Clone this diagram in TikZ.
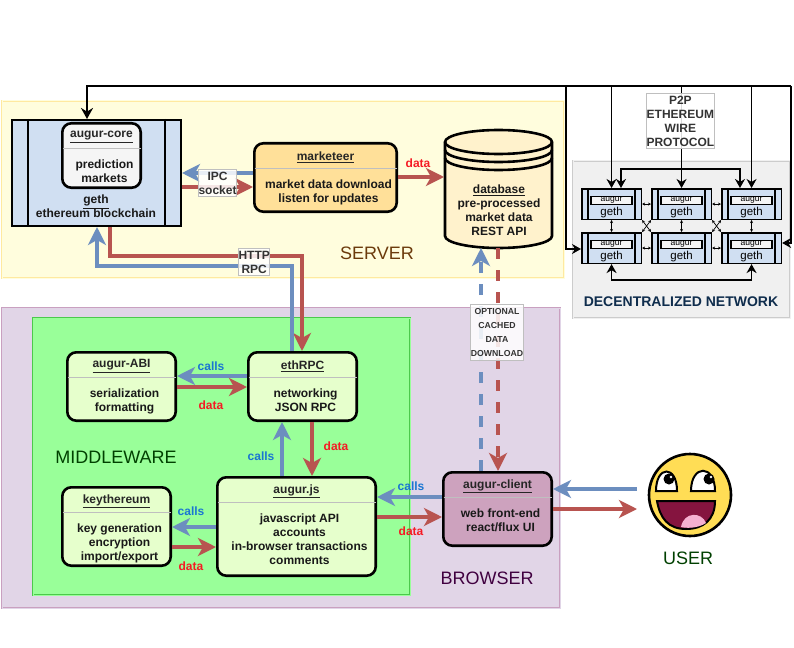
\documentclass[tikz,border=0pt]{standalone}
\usepackage{fontspec}
\setmainfont{Liberation Sans}
\usetikzlibrary{arrows.meta}
\definecolor{callblue}{HTML}{6C8EBF}
\definecolor{datared}{HTML}{B85450}
\definecolor{callstext}{HTML}{1A76D2}
\definecolor{datatext}{HTML}{F51A24}
\definecolor{gethfill}{HTML}{D0DFF2}
\definecolor{serverfill}{HTML}{FFFDDD}
\definecolor{serverline}{HTML}{FFE9A0}
\definecolor{browserfill}{HTML}{E1D5E7}
\definecolor{browserline}{HTML}{C9A0C0}
\definecolor{middlefill}{HTML}{99FF99}
\definecolor{middleline}{HTML}{4CC94C}
\definecolor{cardgreen}{HTML}{E6FFCC}
\definecolor{clientfill}{HTML}{CDA2BE}
\definecolor{marketfill}{HTML}{FFE099}
\definecolor{dbfill}{HTML}{FFF2CC}
\definecolor{faceyellow}{HTML}{FFDD55}
\definecolor{facemouth}{HTML}{85143F}
\definecolor{facetongue}{HTML}{F5B0D0}
\definecolor{servertext}{HTML}{6B3A0B}
\definecolor{nettext}{HTML}{0F2D4D}
\tikzset{
  region/.style 2 args={draw=#1,fill=#2,double=#2,double distance=1pt,line width=.8pt},
  card/.style={draw=black,line width=2.6pt,rounded corners=9pt,anchor=north west,inner sep=0pt},
  head/.style={font=\fontsize{12}{14}\selectfont\bfseries,inner sep=0pt,text=black!85},
  body/.style={font=\fontsize{12}{14}\selectfont\bfseries,inner sep=0pt,align=center,anchor=north,text=black!90},
  divider/.style={draw=black!25,line width=1.3pt},
  calls/.style={draw=callblue,line width=3.6pt,-{Stealth[length=18pt,width=18pt,inset=5pt]}},
  data/.style={draw=datared,line width=3.6pt,-{Stealth[length=18pt,width=18pt,inset=5pt]}},
  tag/.style={draw=black!25,line width=1pt,fill=white,fill opacity=.85,text opacity=1,inner sep=0pt,
    align=center,font=\fontsize{12}{14}\selectfont\bfseries,text=black!80,anchor=north west},
  callstag/.style={font=\fontsize{12}{14}\selectfont\bfseries,text=callstext,inner sep=0pt},
  datatag/.style={font=\fontsize{12}{14}\selectfont\bfseries,text=datatext,inner sep=0pt},
  zone/.style={font=\fontsize{18}{18}\selectfont,inner sep=0pt},
  wire/.style={draw=black,line width=1.8pt,-{Stealth[length=9pt,width=10pt]}},
  wires/.style={draw=black,line width=1.8pt,{Stealth[length=9pt,width=10pt]}-{Stealth[length=9pt,width=10pt]}},
  link/.style={draw=black,line width=.7pt,{Stealth[length=3pt,width=3pt]}-{Stealth[length=3pt,width=3pt]}},
}
\begin{document}
\begin{tikzpicture}[x=1pt,y=-1pt]
  \useasboundingbox (0,0) rectangle (794,647);
  \def\card#1#2(#3,#4)#5#6#7#8{
    \node[card,fill=#2,minimum width=#5-2.6,minimum height=#6-2.6] (#1) at (#3,#4) {};
    \node[head] (#1-head) at ([yshift=-15]#1.north) {\underline{#7}};
    \draw[divider] ([xshift=1.5,yshift=-26.5]#1.north west) -- ([xshift=-1.5,yshift=-26.5]#1.north east);
    \node[body] (#1-body) at ([xshift=3,yshift=-38]#1.north) {#8};
  }
  % regions
  \draw[region={serverline}{serverfill}] (2,101) rectangle (564,278);
  \draw[region={browserline}{browserfill}] (2,308) rectangle (560,608);
  \draw[region={black!20}{black!6}] (573,161) rectangle (790,318);
  \draw[region={middleline}{middlefill}] (33,318) rectangle (410,595);
  \node[zone,text=servertext] (server) at (377,253) {SERVER};
  \node[zone,text=green!25!black] (middleware) at (116,457) {MIDDLEWARE};
  \node[zone,text=violet!50!black] (browser) at (487,578) {BROWSER};
  \node[zone,text=green!25!black] (user) at (688,558) {USER};
  \node[font=\fontsize{14}{14}\selectfont\bfseries,text=nettext,inner sep=0pt] (network) at (681,302) {DECENTRALIZED NETWORK};

  % server
  \node[card,rounded corners=0pt,line width=2pt,fill=gethfill,minimum width=169,minimum height=106] (geth) at (11,119) {};
  \draw[line width=2pt] ([xshift=17]geth.north west) -- ([xshift=17]geth.south west);
  \draw[line width=2pt] ([xshift=-17]geth.north east) -- ([xshift=-17]geth.south east);
  \card{core}{black!4}(61,122){81}{67}{augur-core}{prediction\\markets}
  \node[body] (geth-body) at (96,195) {\underline{geth}\\ethereum blockchain};
  \card{marketeer}{marketfill}(253,142){145}{71}{marketeer}{market data download\\listen for updates}

  % database, three discs on a drum
  \draw[line width=2.6pt,fill=dbfill] (445,142) -- (445,236) arc[start angle=180,end angle=360,x radius=53.5pt,y radius=12pt]
    -- (552,142) arc[start angle=0,end angle=180,x radius=53.5pt,y radius=12pt] -- cycle;
  \draw[line width=2.6pt] (445,142) arc[start angle=180,end angle=360,x radius=53.5pt,y radius=12pt];
  \draw[line width=2.6pt] (445,150) arc[start angle=180,end angle=360,x radius=53.5pt,y radius=12pt];
  \draw[line width=2.6pt] (445,158) arc[start angle=180,end angle=360,x radius=53.5pt,y radius=12pt];
  \node[minimum width=109,minimum height=118,inner sep=0pt,outer sep=0pt] (database) at (498.5,189) {};
  \node[body] (database-body) at (499,185) {\underline{database}\\pre-processed\\market data\\REST API};

  % middleware and browser
  \card{ethrpc}{cardgreen}(247,351){111}{71}{ethRPC}{networking\\JSON RPC}
  \card{abi}{cardgreen}(66,351){111}{71}{augur-ABI}{serialization\\formatting}
  \card{keythereum}{cardgreen}(61,486){111}{81}{keythereum}{key generation\\encryption\\import/export}
  \card{augurjs}{cardgreen}(216,476){161}{101}{augur.js}{javascript API\\accounts\\in-browser transactions\\comments}
  \card{client}{clientfill}(442,471){111}{76}{augur-client}{web front-end\\react/flux UI}

  % user face
  \coordinate (face) at (690,495);
  \fill[faceyellow,draw=black,line width=2.6pt] (face) circle (41);
  \draw[fill=facemouth,line width=2pt] (657,501) -- (715,501) .. controls (715,520) and (703,529) .. (686,529) .. controls (668,529) and (660,518) .. (657,501) -- cycle;
  \fill[facetongue] (681,527) .. controls (684,511) and (702,512) .. (706,523) .. controls (700,527) and (690,529) .. (681,527) -- cycle;
  \draw[fill=white,line width=2pt] (656,491) .. controls (656,465) and (677,465) .. (677,491) -- cycle;
  \draw[fill=white,line width=2pt] (691,491) .. controls (691,464) and (715,464) .. (715,491) -- cycle;
  \fill (669,479) circle (5.5);
  \fill (709,479) circle (5.5);
  \fill[white] (671,477) circle (1.4);
  \fill[white] (711,477) circle (1.4);
  \coordinate (facecall) at (637,489);
  \coordinate (facedata) at (637,509);

  % arrows
  \draw[calls] (marketeer.west |- 0,173) -- (geth.east |- 0,173);
  \draw[data] (geth.east |- 0,187) -- (marketeer.west |- 0,187);
  \draw[data] (marketeer.east |- 0,177) -- (database.west |- 0,177);
  \draw[data] (110,0 |- geth.south) |- (302,256) -- (302,0 |- ethrpc.north);
  \draw[calls] (292,0 |- ethrpc.north) |- (97,266) -- (97,0 |- geth.south);
  \draw[calls] (ethrpc.west |- 0,376) -- (abi.east |- 0,376);
  \draw[data] (abi.east |- 0,387) -- (ethrpc.west |- 0,387);
  \draw[calls] (282,0 |- augurjs.north) -- (282,0 |- ethrpc.south);
  \draw[data] (312,0 |- ethrpc.south) -- (312,0 |- augurjs.north);
  \draw[calls] (augurjs.west |- 0,527) -- (keythereum.east |- 0,527);
  \draw[data] (keythereum.east |- 0,547) -- (augurjs.west |- 0,547);
  \draw[calls] (client.west |- 0,497) -- (augurjs.east |- 0,497);
  \draw[data] (augurjs.east |- 0,517) -- (client.west |- 0,517);
  \draw[calls] (facecall) -- (client.east |- facecall);
  \draw[data] (client.east |- facedata) -- (facedata);
  \draw[calls,dash pattern=on 11pt off 11pt] (481,0 |- client.north) -- (481,0 |- database.south);
  \draw[data,dash pattern=on 11pt off 11pt] (498,0 |- database.south) -- (498,0 |- client.north);

  % labels
  \node[tag,minimum width=37,minimum height=27] (ipc) at (198,169) {IPC\\socket};
  \node[tag,minimum width=30,minimum height=27] (http) at (238,248) {HTTP\\RPC};
  \node[tag,minimum width=53,minimum height=56,font=\fontsize{8.7}{14}\selectfont\bfseries] (optional) at (470,304) {OPTIONAL\\CACHED\\DATA\\DOWNLOAD};
  \node[datatag] (d1) at (418,163) {data};
  \node[callstag] (c1) at (211,366) {calls};
  \node[datatag] (d2) at (211,405) {data};
  \node[callstag] (c2) at (261,456) {calls};
  \node[datatag] (d3) at (336,446) {data};
  \node[callstag] (c3) at (191,511) {calls};
  \node[datatag] (d4) at (191,566) {data};
  \node[callstag] (c4) at (411,486) {calls};
  \node[datatag] (d5) at (411,531) {data};

  % network
  \foreach \c/\x in {1/581,2/651,3/721} {
    \foreach \r/\y in {1/188,2/232} {
      \node[card,rounded corners=0pt,line width=1.6pt,fill=gethfill,minimum width=59.5,minimum height=30.5] (g\c\r) at (\x,\y) {};
      \draw[line width=1.4pt] ([xshift=7]g\c\r.north west) -- ([xshift=7]g\c\r.south west);
      \draw[line width=1.4pt] ([xshift=-7]g\c\r.north east) -- ([xshift=-7]g\c\r.south east);
      \node[draw=black,line width=1.2pt,fill=black!4,minimum width=41,minimum height=8.5,text height=4.5pt,text depth=2pt,inner sep=0pt,font=\fontsize{8.5}{8}\selectfont] (a\c\r) at ([yshift=-12.5]g\c\r.north) {augur};
      \node[inner sep=0pt,font=\fontsize{11.5}{11}\selectfont] (t\c\r) at ([yshift=-25]g\c\r.north) {geth};
    }
    \draw[link] (g\c1) -- (g\c2);
  }
  \draw[link] (g11) -- (g21);
  \draw[link] (g21) -- (g31);
  \draw[link] (g12) -- (g22);
  \draw[link] (g22) -- (g32);
  \draw[link] (g11.south east) -- (g22.north west);
  \draw[link] (g12.north east) -- (g21.south west);
  \draw[link] (g21.south east) -- (g32.north west);
  \draw[link] (g22.north east) -- (g31.south west);
  \coordinate (busE) at (791,86);
  \coordinate (busW) at (566,86);
  \coordinate (ring) at (681,169);
  \draw[wire,-{Stealth[length=11pt,width=12pt]}] (busE) -- (87,86) -- (87,0 |- geth.north);
  \draw[wire] (busW) |- (g12.west |- 0,249);
  \draw[wire] (busE) |- (g32.east |- 0,243);
  \draw[wire] (g11.north |- busE) -- (g11.north);
  \draw[wire] (g31.north |- busE) -- (g31.north);
  \draw[wire] (g21.north |- busE) -- (g21.north);
  \draw[wire] (ring) -| (621,0 |- g11.north);
  \draw[wire] (ring) -| (740,0 |- g31.north);
  \draw[wires] (g12.south) |- (681,280) -| (g32.south);
  \node[tag,minimum width=67,minimum height=55] (p2p) at (646,93) {P2P\\ETHEREUM\\WIRE\\PROTOCOL};
\end{tikzpicture}
\end{document}
